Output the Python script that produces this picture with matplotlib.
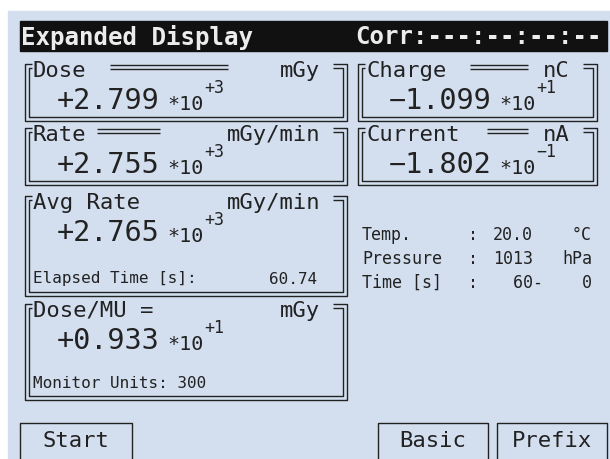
import matplotlib
matplotlib.use("Agg")

import matplotlib.pyplot as plt
from matplotlib.patches import Rectangle

MONO = "DejaVu Sans Mono"
BG = "#d3dfef"
INK = "#222222"

# Display contents
title = "Expanded Display"
corr = "Corr:---:--:--:--"

labels = ["Dose", "Rate", "Avg Rate", "Dose/MU =", "Charge", "Current"]
units = ["mGy", "mGy/min", "mGy/min", "mGy", "nC", "nA"]
mantissas = ["+2.799", "+2.755", "+2.765", "+0.933", "\u22121.099", "\u22121.802"]
exponents = ["+3", "+3", "+3", "+1", "+1", "\u22121"]
footers = ["", "", "Elapsed Time [s]:", "Monitor Units: 300", "", ""]
footer_values = ["", "", "60.74", "", "", ""]

info_names = ["Temp.", "Pressure", "Time [s]"]
info_values = ["20.0", "1013", "  60-"]
info_units = ["\u00b0C", "hPa", "0"]

buttons = ["Start", "Basic", "Prefix"]

# Layout in screen pixels (x0, y0, x1, y1)
boxes = [(25, 64, 347, 121), (25, 128, 347, 185), (25, 196, 347, 296),
         (25, 304, 347, 400), (358, 64, 597, 121), (358, 128, 597, 185)]
segs = [(110, 228), (97, 160), None, None, (470, 528), (487, 528)]
button_boxes = [(20, 423, 132), (378, 423, 488), (497, 423, 607)]

fig = plt.figure(figsize=(6.1, 4.59), dpi=100)
ax = fig.add_axes([0, 0, 1, 1])
ax.set_xlim(0, 610)
ax.set_ylim(459, 0)
ax.axis("off")
fig.patch.set_facecolor("white")

# screen background and title bar
ax.add_patch(Rectangle((8, 11), 610, 460, color=BG, zorder=0))
ax.add_patch(Rectangle((20, 21), 587, 30, color="#111111", zorder=1))
ax.text(21, 37, title, family=MONO, weight="bold", fontsize=17.4,
        color="#ececec", va="center", ha="left")
ax.text(602, 37, corr, family=MONO, weight="bold", fontsize=17.4,
        color="#ececec", va="center", ha="right")


def line(xs, ys, lw=1.0):
    ax.plot(xs, ys, color=INK, lw=lw, solid_capstyle="butt", zorder=2)


def double_box(x0, y0, x1, y1, g=4):
    # outer
    line([x0 + 7, x0, x0, x1, x1, x1 - 14], [y0, y0, y1, y1, y0, y0])
    # inner
    line([x0 + 7, x0 + g, x0 + g, x1 - g, x1 - g, x1 - 14],
         [y0 + g, y0 + g, y1 - g, y1 - g, y0 + g, y0 + g])


for i, (x0, y0, x1, y1) in enumerate(boxes):
    double_box(x0, y0, x1, y1)
    ax.text(x0 + 8, y0 + 7, labels[i], family=MONO, fontsize=16,
            color=INK, va="center", ha="left")
    ax.text(x1 - 27, y0 + 7, units[i], family=MONO, fontsize=16,
            color=INK, va="center", ha="right")
    if segs[i] is not None:
        line([segs[i][0], segs[i][1]], [y0 + 1, y0 + 1])
        line([segs[i][0], segs[i][1]], [y0 + 5, y0 + 5])
    nx = 57 if x0 < 100 else 389
    ny = y0 + 37
    ax.text(nx, ny, mantissas[i], family=MONO, fontsize=20.5,
            color=INK, va="center", ha="left")
    ax.text(nx + 110, ny + 3, "*10", family=MONO, fontsize=14.5,
            color=INK, va="center", ha="left")
    ax.text(nx + 147, ny - 13, exponents[i], family=MONO, fontsize=12,
            color=INK, va="center", ha="left")
    if footers[i]:
        ax.text(x0 + 8, y1 - 17, footers[i], family=MONO, fontsize=11.5,
                color=INK, va="center", ha="left")
    if footer_values[i]:
        ax.text(x1 - 30, y1 - 17, footer_values[i], family=MONO, fontsize=11.5,
                color=INK, va="center", ha="right")

# environment readout
for i, name in enumerate(info_names):
    y = 235 + i * 24
    ax.text(362, y, name, family=MONO, fontsize=12, color=INK, va="center")
    ax.text(468, y, ":", family=MONO, fontsize=12, color=INK, va="center")
    ax.text(493, y, info_values[i], family=MONO, fontsize=12, color=INK, va="center")
    ax.text(592, y, info_units[i], family=MONO, fontsize=12, color=INK,
            va="center", ha="right")

# soft buttons
for name, (bx0, by0, bx1) in zip(buttons, button_boxes):
    line([bx0, bx0, bx1, bx1], [470, by0, by0, 470])
    ax.text((bx0 + bx1) / 2, 441, name, family=MONO, fontsize=16,
            color=INK, va="center", ha="center")

fig.savefig("out.png", dpi=100)
plt.close(fig)
